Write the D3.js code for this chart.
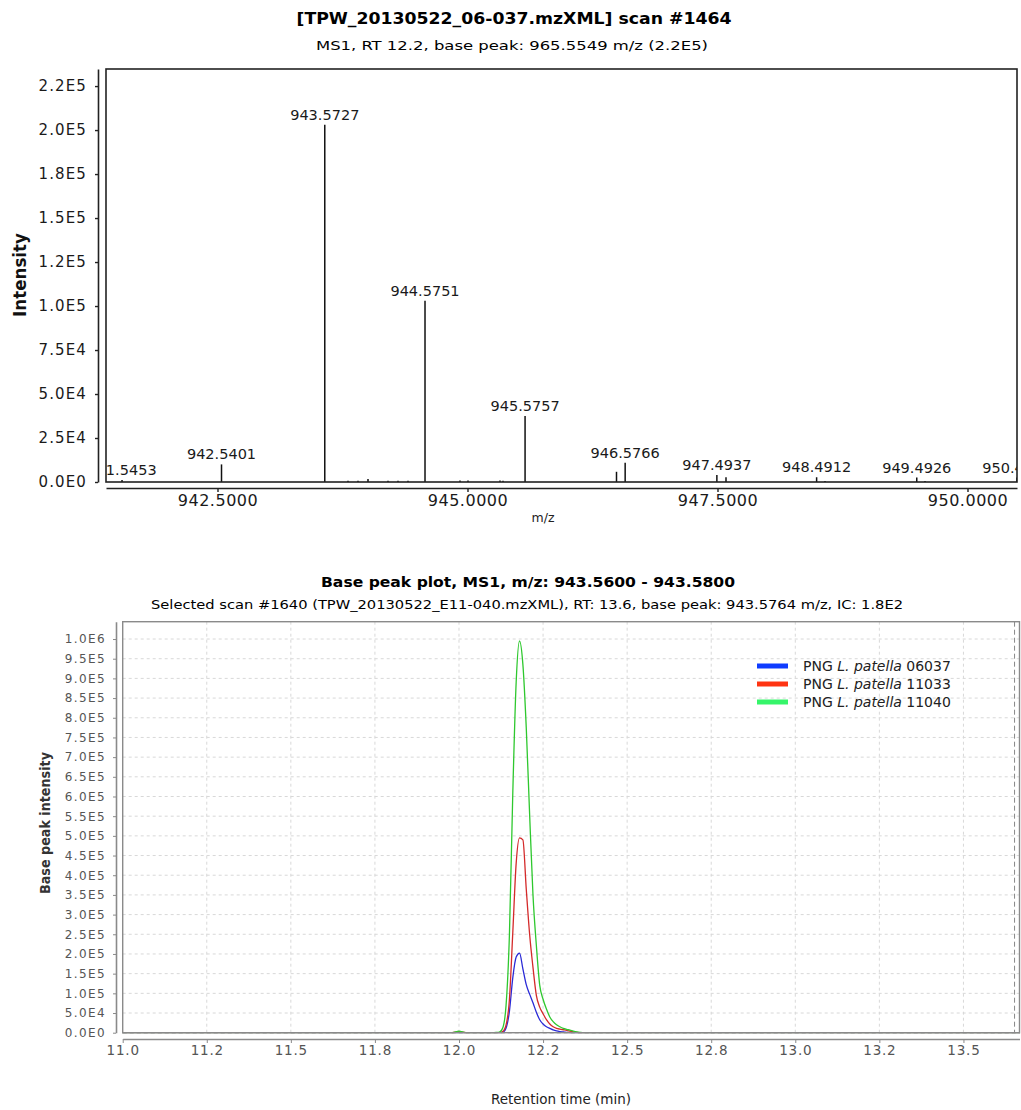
<!DOCTYPE html>
<html>
<head>
<meta charset="utf-8">
<script src="https://cdn.jsdelivr.net/npm/d3@7"></script>
<style>
  body { margin: 0; background: #fff; }
  svg text { font-family: "DejaVu Sans", sans-serif; }
  .cond { font-family: "DejaVu Sans Condensed", "DejaVu Sans", sans-serif; font-stretch: condensed; }
  .grid line { stroke: #d8d8d8; stroke-dasharray: 3 3; }
</style>
</head>
<body>
<svg id="chart" width="1021" height="1110"></svg>
<script>
// ---- MS1 spectrum, scan #1464 ----
const spectrumMz = [941.5453, 942.5401, 943.5727, 943.805, 943.905, 944.005, 944.205, 944.305, 944.405,
  944.5751, 944.925, 945.005, 945.325, 945.355, 945.5757, 946.49, 946.5766, 947.4937, 947.585,
  948.4912, 948.575, 949.4926, 949.575, 950.4936];
const spectrumIntensity = [1100, 10000, 203000, 700, 700, 1700, 700, 700, 700,
  103000, 800, 800, 900, 700, 37500, 5800, 11000, 4000, 2700,
  2700, 600, 2500, 600, 2500];
const labelledMz = [941.5453, 942.5401, 943.5727, 944.5751, 945.5757, 946.5766, 947.4937, 948.4912, 949.4926, 950.4936];
const mzTicks = [942.5, 945, 947.5, 950];
const intensityTicks = [0, 25000, 50000, 75000, 100000, 125000, 150000, 175000, 200000, 225000];
const intensityTickLabels = ["0.0E0", "2.5E4", "5.0E4", "7.5E4", "1.0E5", "1.2E5", "1.5E5", "1.8E5", "2.0E5", "2.2E5"];

// ---- base peak plot, m/z 943.56 - 943.58 ----
const retentionTime = [11.00, 11.98, 12.00, 12.02, 12.10, 12.11, 12.12, 12.13, 12.14, 12.15, 12.16, 12.17,
  12.18, 12.19, 12.20, 12.21, 12.22, 12.23, 12.24, 12.25, 12.26, 12.27, 12.28, 12.29, 12.30, 12.31,
  12.32, 12.33, 12.34, 12.35, 12.36, 12.37, 13.667];
const bpi06037 = [0, 0, 0, 0, 0, 0, 0, 1000, 12000, 55000, 140000, 192000,
  202000, 162000, 122000, 98000, 76000, 52000, 33000, 22000, 15000, 11000, 7000, 4500, 3000, 2000,
  1000, 0, 0, 0, 0, 0, 0];
const bpi11033 = [0, 0, 2500, 0, 0, 0, 0, 3000, 20000, 85000, 255000, 430000,
  495000, 490000, 365000, 250000, 166000, 95000, 65000, 48000, 33000, 22000, 15000, 11000, 9000, 7500,
  6000, 4000, 2000, 800, 0, 0, 0];
const bpi11040 = [0, 0, 4000, 0, 0, 500, 1500, 12000, 70000, 250000, 610000, 890000,
  995000, 935000, 775000, 555000, 350000, 222000, 121000, 85000, 60000, 40000, 28000, 20000, 15000, 11000,
  8500, 6500, 4000, 2000, 800, 0, 0];
const sampleIds = ["06037", "11033", "11040"];
const selectedRt = 13.652;
const rtTicks = [11.0, 11.25, 11.5, 11.75, 12.0, 12.25, 12.5, 12.75, 13.0, 13.25, 13.5];
const rtTickLabels = ["11.0", "11.2", "11.5", "11.8", "12.0", "12.2", "12.5", "12.8", "13.0", "13.2", "13.5"];
const bpiTicks = [0, 50000, 100000, 150000, 200000, 250000, 300000, 350000, 400000, 450000, 500000,
  550000, 600000, 650000, 700000, 750000, 800000, 850000, 900000, 950000, 1000000];
const bpiTickLabels = ["0.0E0", "5.0E4", "1.0E5", "1.5E5", "2.0E5", "2.5E5", "3.0E5", "3.5E5", "4.0E5", "4.5E5",
  "5.0E5", "5.5E5", "6.0E5", "6.5E5", "7.0E5", "7.5E5", "8.0E5", "8.5E5", "9.0E5", "9.5E5", "1.0E6"];

const lineColors = ["#2a2ad6", "#d42a2a", "#2ec82e"];
const legendColors = ["#0f3cff", "#ff3412", "#36f56a"];

const svg = d3.select("#chart");

// ================= top: spectrum =================
const specBox = { left: 106, right: 1017, top: 69, bottom: 482 };
const xMz = d3.scaleLinear().domain([941.385, 950.495]).range([specBox.left, specBox.right]);
const yInt = d3.scaleLinear().domain([0, 234700]).range([specBox.bottom, specBox.top]);

svg.append("clipPath").attr("id", "specClip")
  .append("rect")
  .attr("x", specBox.left).attr("y", specBox.top)
  .attr("width", specBox.right - specBox.left).attr("height", specBox.bottom - specBox.top);

svg.append("text").attr("class", "cond")
  .attr("x", 514).attr("y", 24).attr("text-anchor", "middle")
  .attr("font-size", 15).attr("font-weight", "bold")
  .attr("textLength", 435).attr("lengthAdjust", "spacingAndGlyphs")
  .text("[TPW_20130522_06-037.mzXML] scan #1464");
svg.append("text").attr("class", "cond")
  .attr("x", 512).attr("y", 50).attr("text-anchor", "middle")
  .attr("font-size", 13)
  .attr("textLength", 392).attr("lengthAdjust", "spacingAndGlyphs")
  .text("MS1, RT 12.2, base peak: 965.5549 m/z (2.2E5)");

const yAxisTop = svg.append("g")
  .attr("transform", "translate(98,0)")
  .call(d3.axisLeft(yInt).tickValues(intensityTicks)
    .tickFormat((d, i) => intensityTickLabels[i]).tickSize(3).tickPadding(8).tickSizeOuter(0));
yAxisTop.select(".domain").attr("stroke", "#222").attr("stroke-width", 1.6);
yAxisTop.selectAll(".tick line").attr("stroke", "#222").attr("stroke-width", 1.4);
yAxisTop.selectAll(".tick text").attr("font-size", 15).attr("letter-spacing", 1.1).attr("fill", "#1a1a1a");

const xAxisTop = svg.append("g")
  .attr("transform", "translate(0,488)")
  .call(d3.axisBottom(xMz).tickValues(mzTicks).tickFormat(d3.format(".4f"))
    .tickSize(4).tickPadding(3).tickSizeOuter(0));
xAxisTop.select(".domain").attr("stroke", "#222").attr("stroke-width", 1.6);
xAxisTop.selectAll(".tick line").attr("stroke", "#222").attr("stroke-width", 1.4);
xAxisTop.selectAll(".tick text").attr("font-size", 16).attr("letter-spacing", 0.5).attr("fill", "#1a1a1a");

svg.append("text").attr("x", 543).attr("y", 522).attr("text-anchor", "middle")
  .attr("font-size", 12.5).attr("fill", "#222").text("m/z");
svg.append("text").attr("class", "cond")
  .attr("transform", "translate(26,275) rotate(-90)")
  .attr("text-anchor", "middle").attr("font-size", 17).attr("font-weight", "bold")
  .attr("textLength", 84).attr("lengthAdjust", "spacingAndGlyphs")
  .attr("fill", "#111").text("Intensity");

const specPeaks = spectrumMz.map((m, i) => ({ mz: m, v: spectrumIntensity[i] }));
const specG = svg.append("g").attr("clip-path", "url(#specClip)");
specG.selectAll("line.stem").data(specPeaks).join("line")
  .attr("class", "stem")
  .attr("x1", d => xMz(d.mz)).attr("x2", d => xMz(d.mz))
  .attr("y1", yInt(0)).attr("y2", d => yInt(d.v))
  .attr("stroke", "#111").attr("stroke-width", 1.5);
specG.selectAll("text.peak").data(specPeaks.filter(d => labelledMz.includes(d.mz))).join("text")
  .attr("class", "peak")
  .attr("x", d => xMz(d.mz)).attr("y", d => yInt(d.v) - 5)
  .attr("text-anchor", "middle").attr("font-size", 14.5).attr("fill", "#1a1a1a")
  .text(d => d.mz.toFixed(4));

svg.append("rect")
  .attr("x", specBox.left).attr("y", specBox.top)
  .attr("width", specBox.right - specBox.left).attr("height", specBox.bottom - specBox.top)
  .attr("fill", "none").attr("stroke", "#222").attr("stroke-width", 1.6);

// ================= bottom: base peak plot =================
const bpBox = { left: 122.7, right: 1019.5, top: 621.7, bottom: 1032.7 };
const xRt = d3.scaleLinear().domain([11.0, 13.6667]).range([bpBox.left, bpBox.right]);
const yBpi = d3.scaleLinear().domain([0, 1044000]).range([bpBox.bottom, bpBox.top]);

svg.append("text").attr("class", "cond")
  .attr("x", 528).attr("y", 587).attr("text-anchor", "middle")
  .attr("font-size", 13.5).attr("font-weight", "bold")
  .attr("textLength", 414).attr("lengthAdjust", "spacingAndGlyphs")
  .text("Base peak plot, MS1, m/z: 943.5600 - 943.5800");
svg.append("text").attr("class", "cond")
  .attr("x", 527).attr("y", 609).attr("text-anchor", "middle")
  .attr("font-size", 12.5)
  .attr("textLength", 752).attr("lengthAdjust", "spacingAndGlyphs")
  .text("Selected scan #1640 (TPW_20130522_E11-040.mzXML), RT: 13.6, base peak: 943.5764 m/z, IC: 1.8E2");

const grid = svg.append("g").attr("class", "grid");
grid.selectAll("line.h").data(bpiTicks.filter(d => d > 0)).join("line")
  .attr("class", "h")
  .attr("x1", bpBox.left).attr("x2", bpBox.right)
  .attr("y1", d => yBpi(d)).attr("y2", d => yBpi(d));
grid.selectAll("line.v").data(rtTicks.filter(d => d > 11.0)).join("line")
  .attr("class", "v")
  .attr("x1", d => xRt(d)).attr("x2", d => xRt(d))
  .attr("y1", bpBox.top).attr("y2", bpBox.bottom);

const yAxisBp = svg.append("g")
  .attr("transform", "translate(116,0)")
  .call(d3.axisLeft(yBpi).tickValues(bpiTicks)
    .tickFormat((d, i) => bpiTickLabels[i]).tickSize(3).tickPadding(7).tickSizeOuter(0));
yAxisBp.select(".domain").attr("stroke", "#8a8a8a").attr("stroke-width", 1.6);
yAxisBp.selectAll(".tick line").attr("stroke", "#8a8a8a");
yAxisBp.selectAll(".tick text").attr("font-size", 12).attr("letter-spacing", 1.4).attr("fill", "#555");

const xAxisBp = svg.append("g")
  .attr("transform", "translate(0,1039)")
  .call(d3.axisBottom(xRt).tickValues(rtTicks)
    .tickFormat((d, i) => rtTickLabels[i]).tickSize(4).tickPadding(2).tickSizeOuter(0));
xAxisBp.select(".domain").attr("stroke", "#8a8a8a").attr("stroke-width", 1.6);
xAxisBp.selectAll(".tick line").attr("stroke", "#8a8a8a");
xAxisBp.selectAll(".tick text").attr("font-size", 13.5).attr("letter-spacing", 0.8).attr("fill", "#555");

svg.append("text").attr("class", "cond")
  .attr("transform", "translate(50,823) rotate(-90)")
  .attr("text-anchor", "middle").attr("font-size", 14.5).attr("font-weight", "bold")
  .attr("textLength", 142).attr("lengthAdjust", "spacingAndGlyphs")
  .attr("fill", "#333").text("Base peak intensity");
svg.append("text")
  .attr("x", 561).attr("y", 1104).attr("text-anchor", "middle")
  .attr("font-family", "'Open Sans', sans-serif").attr("font-size", 13.5).attr("fill", "#222")
  .text("Retention time (min)");

const seriesData = [bpi06037, bpi11033, bpi11040];
const line = d3.line()
  .x((d, i) => xRt(retentionTime[i]))
  .y(d => yBpi(d))
  .curve(d3.curveMonotoneX);
svg.append("g").selectAll("path.series").data(seriesData).join("path")
  .attr("class", "series")
  .attr("d", d => line(d))
  .attr("fill", "none")
  .attr("stroke", (d, i) => lineColors[i])
  .attr("stroke-width", 1.3);

// zero baseline drawn over the series
svg.append("line")
  .attr("x1", bpBox.left).attr("x2", bpBox.right)
  .attr("y1", yBpi(0)).attr("y2", yBpi(0))
  .attr("stroke", "#fff").attr("stroke-width", 1.6);
svg.append("line")
  .attr("x1", bpBox.left).attr("x2", bpBox.right)
  .attr("y1", yBpi(0)).attr("y2", yBpi(0))
  .attr("stroke", "#777").attr("stroke-width", 1.2).attr("stroke-dasharray", "4 3");

// selected scan marker
svg.append("line")
  .attr("x1", xRt(selectedRt)).attr("x2", xRt(selectedRt))
  .attr("y1", bpBox.top).attr("y2", bpBox.bottom)
  .attr("stroke", "#888").attr("stroke-width", 1).attr("stroke-dasharray", "5 3");

svg.append("rect")
  .attr("x", bpBox.left).attr("y", bpBox.top)
  .attr("width", bpBox.right - bpBox.left).attr("height", bpBox.bottom - bpBox.top)
  .attr("fill", "none").attr("stroke", "#8a8a8a").attr("stroke-width", 1.4);

// legend
const legend = svg.append("g").attr("transform", "translate(757,666)");
const item = legend.selectAll("g").data(sampleIds).join("g")
  .attr("transform", (d, i) => `translate(0,${i * 18})`);
item.append("line")
  .attr("x1", 0).attr("x2", 31).attr("y1", 0).attr("y2", 0)
  .attr("stroke", (d, i) => legendColors[i]).attr("stroke-width", 5);
const lt = item.append("text")
  .attr("x", 46).attr("y", 5)
  .attr("font-family", "'Open Sans', sans-serif").attr("font-size", 14).attr("fill", "#222");
lt.append("tspan").text("PNG ");
lt.append("tspan").attr("font-style", "italic").text("L. patella");
lt.append("tspan").text(d => " " + d);
</script>
</body>
</html>
